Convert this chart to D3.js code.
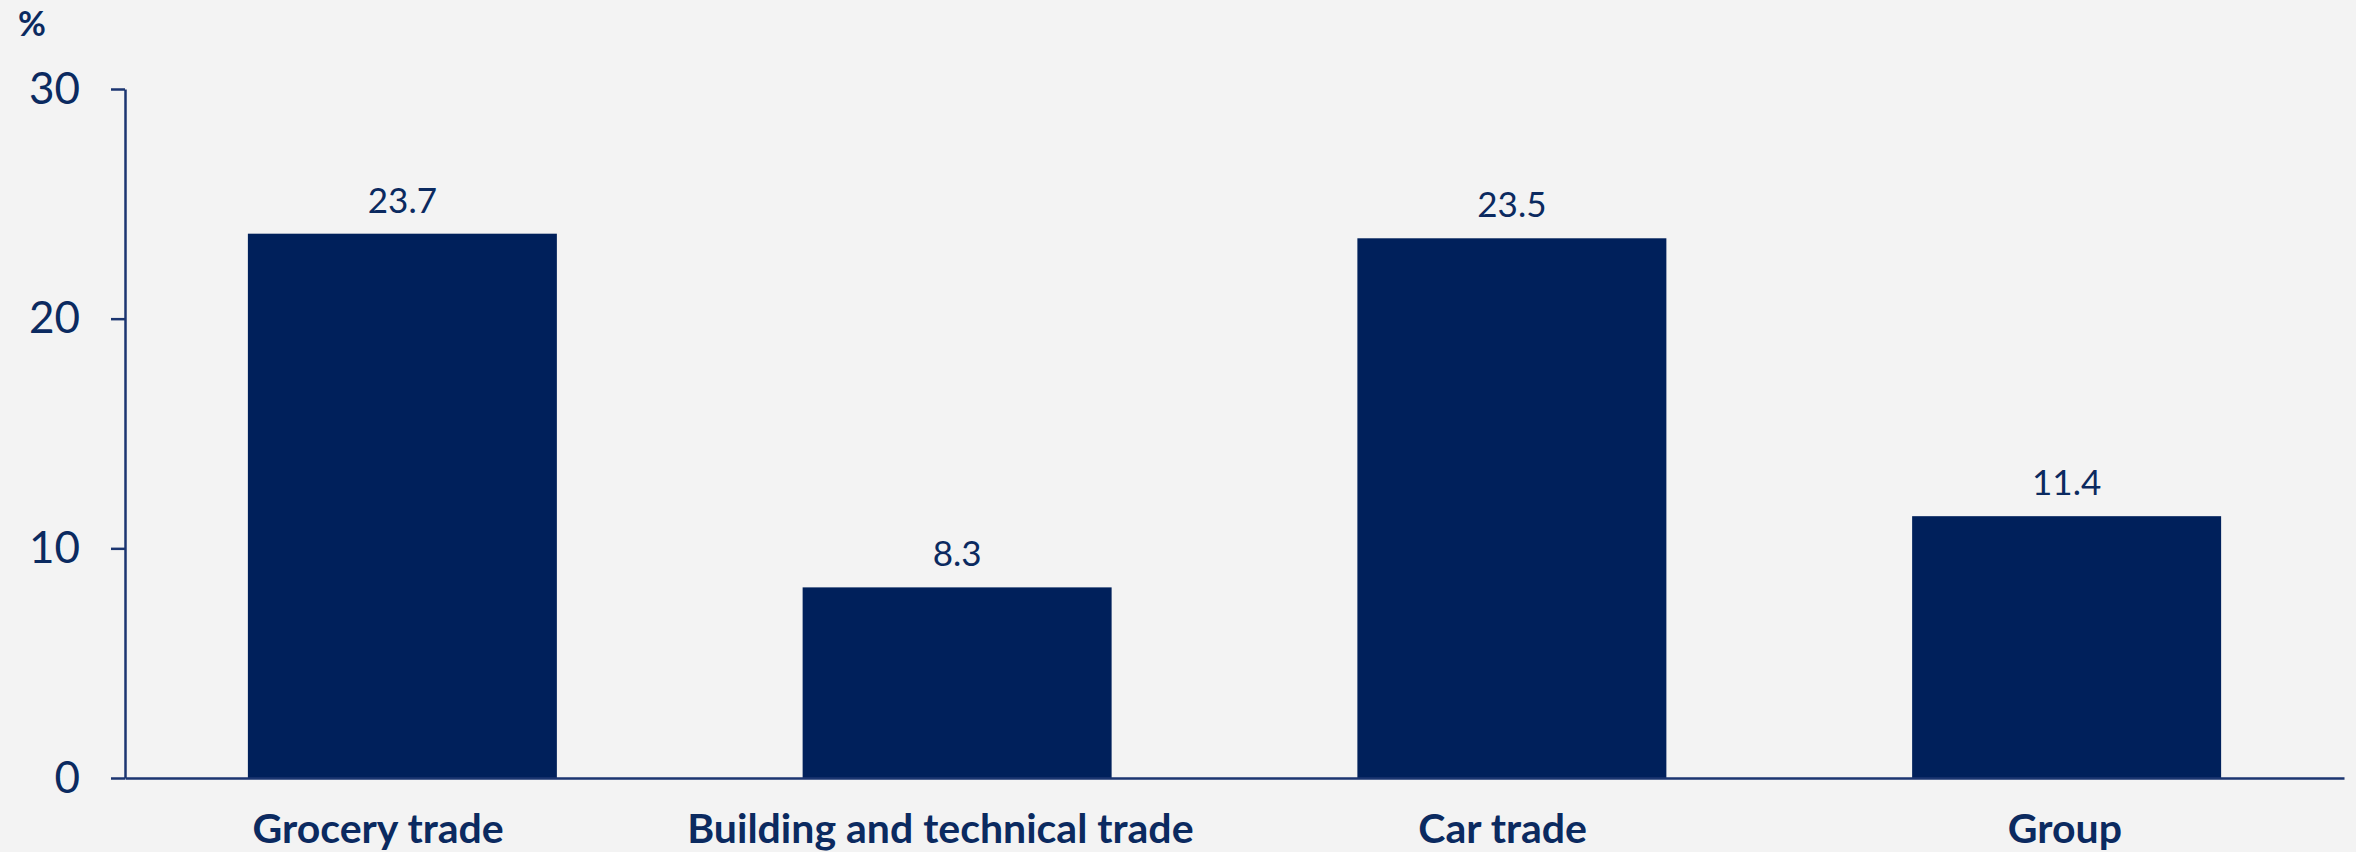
<!DOCTYPE html>
<html>
<head>
<meta charset="utf-8">
<script src="https://cdn.jsdelivr.net/npm/d3@7"></script>
<style>
  html, body { margin: 0; padding: 0; background: #f3f3f3; }
  svg { display: block; }
</style>
</head>
<body>
<svg id="chart" width="2356" height="852"></svg>
<script>
const categories = ["Grocery trade", "Building and technical trade", "Car trade", "Group"];
const values = [23.7, 8.3, 23.5, 11.4];
const valueLabels = ["23.7", "8.3", "23.5", "11.4"];
const yTicks = [0, 10, 20, 30];
const unitLabel = "%";

const W = 2356, H = 852;
const navy = "#00205b";
const textCol = "#0b2a60";
const axisCol = "#1b3570";

const svg = d3.select("#chart");
svg.append("rect").attr("width", W).attr("height", H).attr("fill", "#f3f3f3");

const x = d3.scaleBand().domain(categories).range([125, 2344]).paddingInner(0.443).paddingOuter(0.2215);
const xLab = d3.scaleBand().domain(categories).range([97, 2346]);
const y = d3.scaleLinear().domain([0, 30]).range([778, 89]);

// bars
svg.selectAll("rect.bar").data(values).enter().append("rect")
  .attr("class", "bar")
  .attr("x", (d, i) => x(categories[i]))
  .attr("width", x.bandwidth())
  .attr("y", d => y(d))
  .attr("height", d => y(0) - y(d))
  .attr("fill", navy);

// value labels
svg.selectAll("text.val").data(values).enter().append("text")
  .attr("class", "val")
  .attr("x", (d, i) => x(categories[i]) + x.bandwidth() / 2)
  .attr("y", d => y(d) - 21)
  .attr("text-anchor", "middle")
  .attr("font-family", "Lato, sans-serif")
  .attr("font-size", 35)
  .attr("fill", textCol)
  .text((d, i) => valueLabels[i]);

// y axis
const yAxis = svg.append("g").attr("transform", "translate(125,0)")
  .call(d3.axisLeft(y).tickValues(yTicks).tickSize(14).tickPadding(31).tickSizeOuter(0));
yAxis.select(".domain").attr("stroke", axisCol).attr("stroke-width", 2.5);
yAxis.selectAll(".tick line").attr("stroke", axisCol).attr("stroke-width", 2.5);
yAxis.selectAll(".tick text")
  .attr("font-family", "Lato, sans-serif")
  .attr("font-size", 44)
  .attr("fill", textCol);

// x axis line
const xAxis = svg.append("g").attr("transform", "translate(0,778)")
  .call(d3.axisBottom(x).tickSize(0).tickFormat(""));
xAxis.select(".domain").attr("stroke", axisCol).attr("stroke-width", 2.5);

// category labels
const xLabAxis = svg.append("g").attr("transform", "translate(0,778)")
  .call(d3.axisBottom(xLab).tickSize(0).tickPadding(0));
xLabAxis.select(".domain").remove();
xLabAxis.selectAll(".tick text")
  .attr("font-family", "Lato, sans-serif")
  .attr("font-weight", 700)
  .attr("font-size", 41)
  .attr("fill", textCol)
  .attr("dy", null)
  .attr("y", 65);

// unit label
svg.append("text")
  .attr("x", 18).attr("y", 36)
  .attr("font-family", "Lato, sans-serif")
  .attr("font-weight", 700)
  .attr("font-size", 34)
  .attr("fill", textCol)
  .text(unitLabel);
</script>
</body>
</html>
